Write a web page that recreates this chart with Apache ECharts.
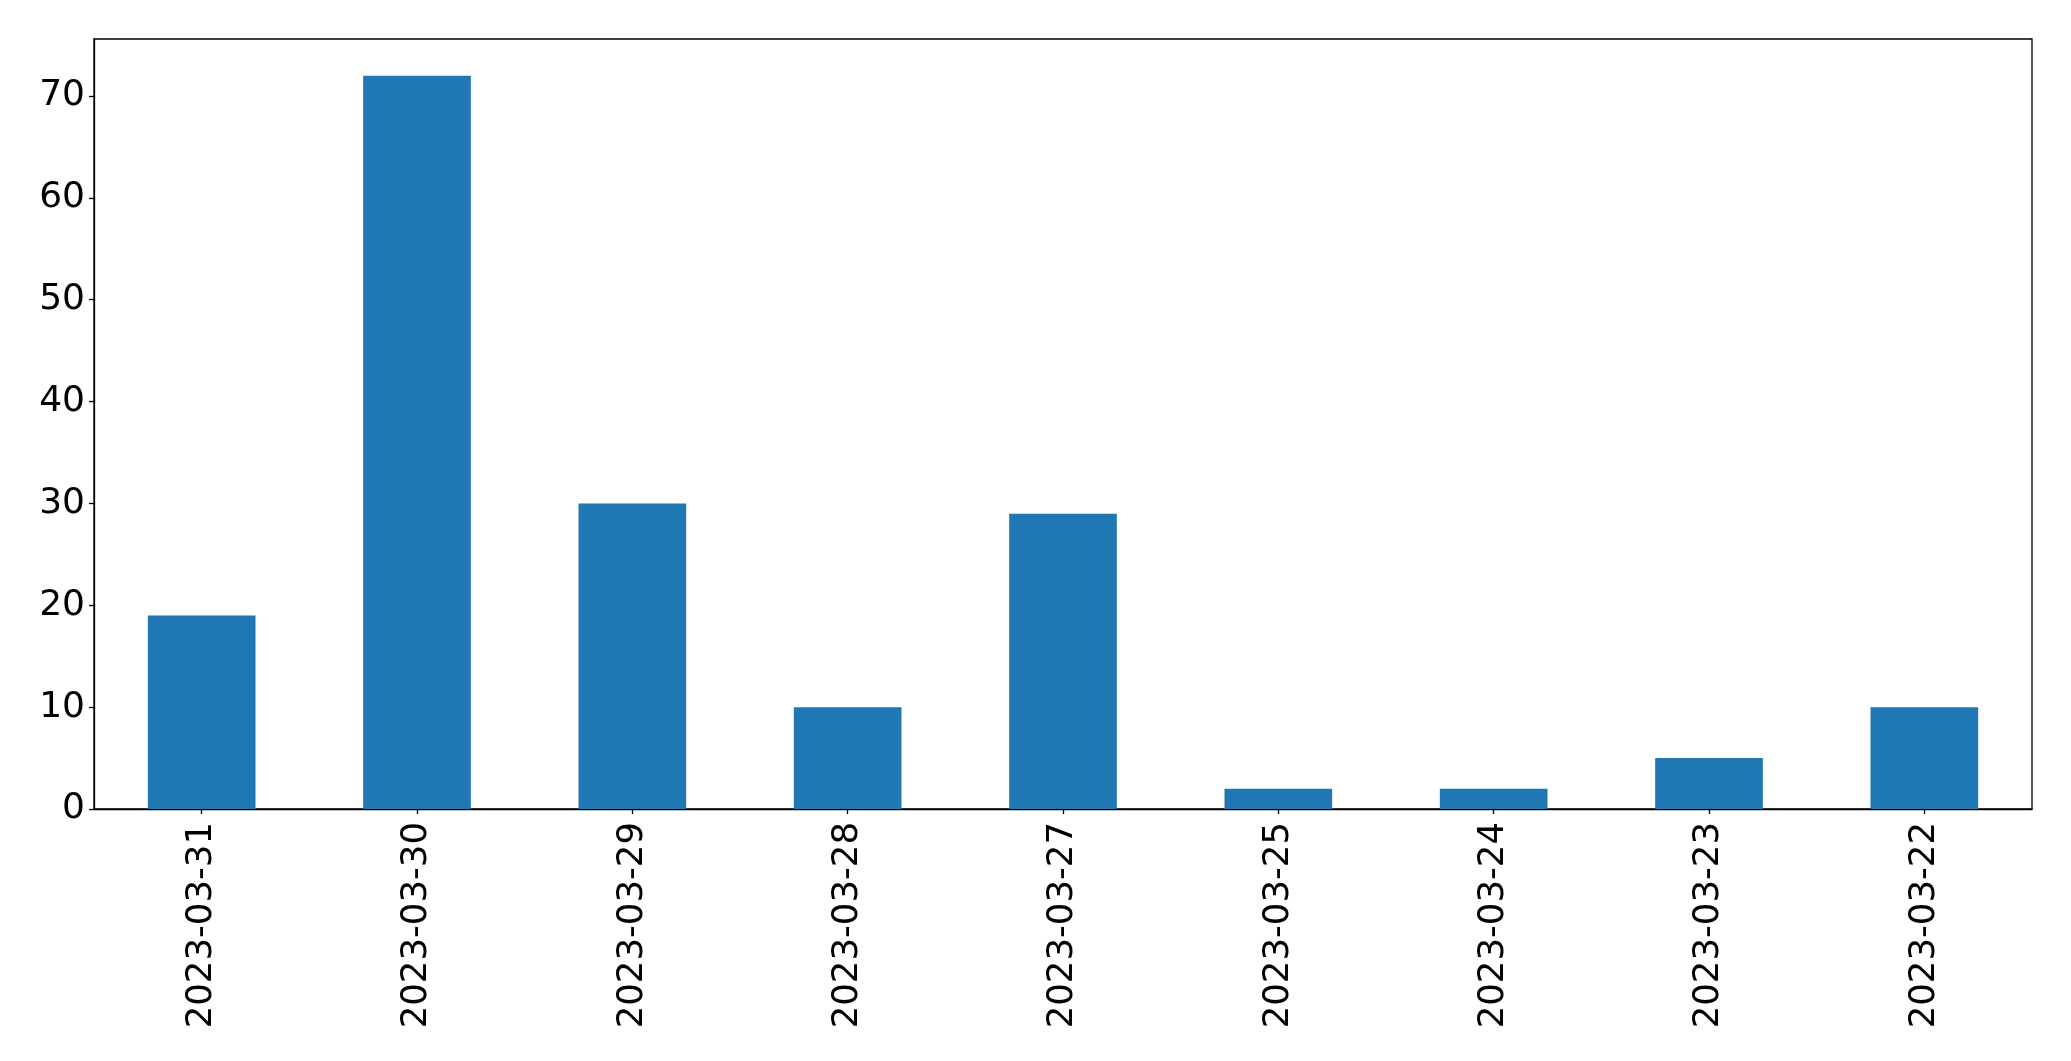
<!DOCTYPE html>
<html>
<head>
<meta charset="utf-8">
<script src="https://cdn.jsdelivr.net/npm/echarts@6/dist/echarts.min.js"></script>
<style>
html,body{margin:0;padding:0;background:#fff;}
#c{width:2071px;height:1061px;}
</style>
</head>
<body>
<div id="c"></div>
<script>
const categories = ["2023-03-31","2023-03-30","2023-03-29","2023-03-28","2023-03-27","2023-03-25","2023-03-24","2023-03-23","2023-03-22"];
const values = [19, 72, 30, 10, 29, 2, 2, 5, 10];
const yTicks = [0, 10, 20, 30, 40, 50, 60, 70];

const chart = echarts.init(document.getElementById('c'), null, {renderer: 'canvas'});
const font = 'DejaVu Sans';
chart.setOption({
  animation: false,
  backgroundColor: '#ffffff',
  grid: {left: 94, top: 39, right: 39, bottom: 252, show: true, borderColor: '#000', borderWidth: 1.3, backgroundColor: 'transparent'},
  xAxis: {
    type: 'category',
    data: categories,
    boundaryGap: true,
    axisLine: {show: true, lineStyle: {color: '#000', width: 1.3}},
    axisTick: {show: true, alignWithLabel: true, length: 5, lineStyle: {color: '#000', width: 1.3}},
    axisLabel: {rotate: 90, interval: 0, margin: 13, color: '#000', fontFamily: font, fontSize: 35.5},
    splitLine: {show: false}
  },
  yAxis: {
    type: 'value',
    min: 0,
    max: 75.6,
    interval: 10,
    axisLine: {show: true, lineStyle: {color: '#000', width: 1.3}},
    axisTick: {show: true, length: 5, lineStyle: {color: '#000', width: 1.3}},
    axisLabel: {
      showMaxLabel: false,
      margin: 9,
      color: '#000', fontFamily: font, fontSize: 36,
      formatter: function (v) { return yTicks.indexOf(v) >= 0 ? String(v) : ''; }
    },
    splitLine: {show: false}
  },
  series: [{
    type: 'bar',
    data: values,
    barWidth: '50%',
    itemStyle: {color: '#1f77b4'}
  }]
});
</script>
</body>
</html>
